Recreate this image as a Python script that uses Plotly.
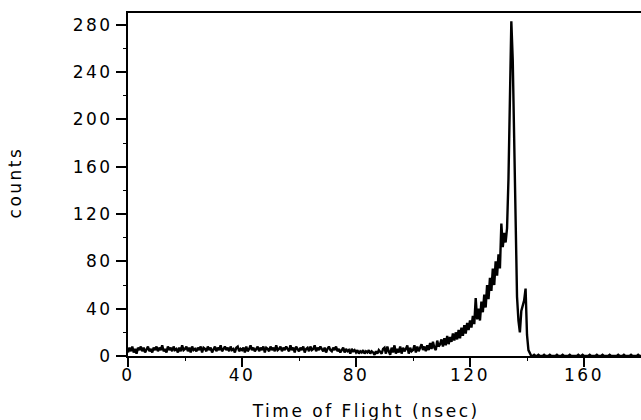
import plotly.graph_objects as go

# Time-of-flight histogram, 0.5 ns bins starting at 0 ns
bin_width = 0.5
counts_0_45 = [3,7,4,8,3,6,2,7,5,8, 4,7,3,6,8,4,6,3,7,5, 8,4,7,5,9,4,6,3,8,5,
               7,4,8,5,6,3,7,4,9,5, 6,8,4,7,3,8,5,6,4,7, 5,8,3,7,6,4,8,5,7,3,
               6,8,4,7,5,9,4,6,8,5, 7,4,8,5,6,3,7,8,4,6, 5,7,3,8,4,6,9,5,7,4]
counts_45_90 = [6,8,4,7,5,8,3,7,6,4, 8,5,7,4,9,5,6,8,4,7, 5,8,6,4,9,5,7,3,8,6,
                4,7,5,8,3,6,7,4,8,5, 6,9,4,7,5,8,6,4,7,3, 6,8,5,4,7,5,8,4,6,3,
                5,7,3,6,4,5,2,6,4,5, 3,5,2,4,3,5,2,4,3,5, 2,4,3,1,4,2,5,3,2,6]
counts_90_120 = [7,2,8,4,1,7,3,9,2,6, 3,8,2,7,4,6,9,2,7,4, 5,9,3,8,4,7,10,5,8,4,
                 9,5,11,6,12,7,5,13,8,10, 14,8,15,9,17,10,16,12,19,13,
                 20,14,22,15,24,17,26,19,28,22]
counts_120_142 = [30,24,34,27,49,31,40,30,46,37, 52,41,60,48,66,55,74,60,80,68,
                  86,74,112,92,104,96, 108,150,227,283,250,190,
                  120,50,30,20,38,42,47,57,18,5,2,0]
counts_142_180 = [0,1,0,0,1,0,0,0,1,0, 0,0,1,0,0,0,0,1,0,0, 0,1,0,0,0,0,1,0,0,0,
                  0,0,1,0,0,1,0,0,0,0, 1,0,0,0,0,1,0,0,0,1, 0,0,0,0,1,0,0,0,0,0,
                  1,0,0,0,1,0,0,0,0,1, 0,0,0,0,1,0,0]

counts = counts_0_45 + counts_45_90 + counts_90_120 + counts_120_142 + counts_142_180
tof = [i * bin_width for i in range(len(counts))]

x_ticks = [0, 40, 80, 120, 160]
y_ticks = [0, 40, 80, 120, 160, 200, 240, 280]
x_title = "Time of Flight (nsec)"
y_title = "counts"

fig = go.Figure()
fig.add_trace(go.Scatter(x=tof, y=counts, mode="lines",
                         line=dict(color="black", width=2.4), showlegend=False))

font_family = "DejaVu Sans"
fig.update_layout(
    width=641, height=420,
    margin=dict(l=128, r=0, t=13, b=64),
    paper_bgcolor="white", plot_bgcolor="white",
    font=dict(family=font_family, size=17, color="black"),
)
fig.update_xaxes(
    range=[0, 180], tickvals=x_ticks, showgrid=False, zeroline=False,
    showline=True, linecolor="black", linewidth=2, mirror=True,
    ticks="outside", ticklen=9, tickwidth=1.5, tickcolor="black",
    ticklabelstandoff=-6,
    minor=dict(dtick=20, tick0=0, ticks="outside", ticklen=3, tickcolor="black", tickwidth=1),
)
fig.update_yaxes(
    range=[0, 290], tickvals=y_ticks, showgrid=False, zeroline=False,
    showline=True, linecolor="black", linewidth=2, mirror=False,
    ticks="outside", ticklen=10, tickwidth=1.5, tickcolor="black",
    minor=dict(dtick=20, tick0=0, ticks="outside", ticklen=3, tickcolor="black", tickwidth=1),
)
fig.add_annotation(text=x_title, xref="paper", yref="paper", x=0.462, y=-0.16,
                   xanchor="center", yanchor="middle", showarrow=False,
                   font=dict(size=17))
fig.add_annotation(text=y_title, xref="paper", yref="paper", x=-0.22, y=0.505,
                   xanchor="center", yanchor="middle", showarrow=False,
                   textangle=-90, font=dict(size=17))

post = """
(function(){
  var gd = document.getElementById('{plot_id}');
  function space(){ gd.querySelectorAll('text').forEach(function(t){ t.style.letterSpacing='2.5px'; }); }
  space(); setTimeout(space, 0); setTimeout(space, 200);
  if (gd.on) { gd.on('plotly_afterplot', space); }
})();
"""
fig.write_html("out.html", post_script=post)
